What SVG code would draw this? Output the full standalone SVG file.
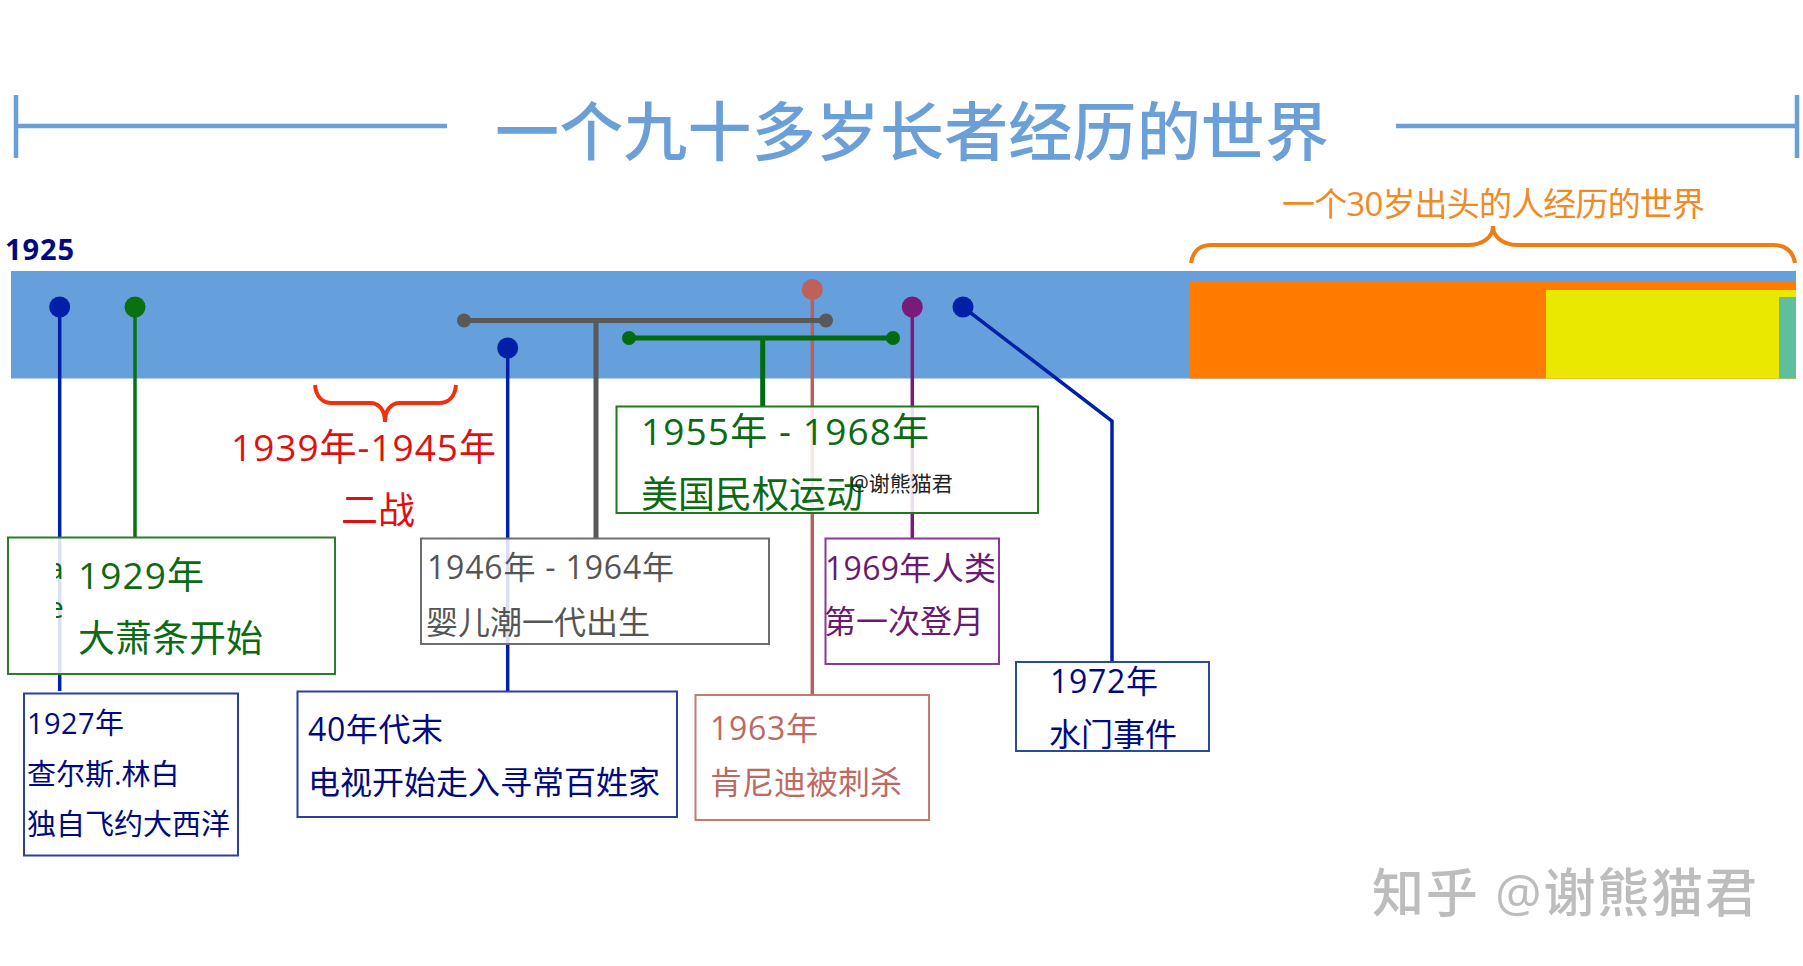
<svg xmlns="http://www.w3.org/2000/svg" width="1803" height="966" viewBox="0 0 1803 966">
<defs><clipPath id="frag"><rect x="56" y="555" width="7" height="70"/></clipPath></defs>
<style>
text{font-family:"Open Sans","Noto Sans CJK SC",sans-serif}
.box{fill:#fff;fill-opacity:.86;stroke-width:2}
.c{fill:none;stroke-width:3.5}
.t{fill:none;stroke-width:5}
.navy{fill:#000a80}.green{fill:#0b6a12}.grey{fill:#555}.rose{fill:#bd6a62}.purple{fill:#6a1a72}
</style>
<rect width="1803" height="966" fill="#fff"/>
<g id="title" fill="none" stroke="#6a9fd8" stroke-width="4.5">
<path d="M16 95V158M16 126H447M1396 126H1797M1797 95V158"/>
<text x="495" y="155" font-size="64" font-weight="500" fill="#6a9fd8" stroke="none" textLength="834">一个九十多岁长者经历的世界</text>
</g>
<g id="bar">
<rect x="11" y="271" width="1785" height="107.500" fill="#659fdc"/>
<rect x="1190" y="281.500" width="606" height="97" fill="#ff7c00"/>
<rect x="1546" y="290" width="250" height="88.500" fill="#eae800"/>
<rect x="1779" y="297" width="17" height="81.500" fill="#5fbf9c"/>
<text x="5" y="260" font-size="29" font-weight="700" fill="#000a80" textLength="69">1925</text>
</g>
<g id="connectors">
<path class="c" stroke="#0020a8" d="M59.700 307V691"/>
<path class="c" stroke="#0a7010" d="M135 307V537"/>
<path class="c" stroke="#0020a8" d="M507.700 348V691"/>
<path class="c" stroke="#b5625e" d="M812.300 289V695"/>
<path class="c" stroke="#7a1a7a" d="M912.300 307V538"/>
<path class="c" stroke="#0020a8" d="M963 307L1112 421V662"/>
<path class="t" stroke="#595959" d="M464 320.500H826M596 320.500V538"/>
<path class="t" stroke="#006b10" d="M629 338H893M762.700 338V406"/>
</g>
<g id="war">
<path fill="none" stroke="#f03010" stroke-width="4" d="M315 385C316 396 322 403 332 403H370C379 403 385 410 385 422C385 410 391 403 400 403H439C449 403 455 396 456 385"/>
<text x="231" y="461" font-size="37" fill="#e01010" textLength="265">1939年-1945年</text>
<text x="378" y="524" font-size="37" text-anchor="middle" fill="#e01010">二战</text>
</g>
<g id="recent">
<path fill="none" stroke="#f07d14" stroke-width="4" d="M1191 263C1193 251 1199 245 1212 245H1468C1483 245 1493 237 1493 226C1493 237 1503 245 1518 245H1773C1786 245 1793 251 1795 263"/>
<text x="1282" y="216" font-size="33" fill="#f08a24" textLength="423">一个30岁出头的人经历的世界</text>
</g>
<g id="n1927">
<circle cx="59.700" cy="307" r="10.500" fill="#0020a8"/>
<rect class="box" x="24" y="693.500" width="214" height="162" stroke="#2a3fa0"/>
<g class="navy" font-size="29"><text x="27" y="734" textLength="97">1927年</text><text x="27" y="785">查尔斯.林白</text><text x="27" y="835">独自飞约大西洋</text></g>
</g>
<g id="n1929">
<circle cx="135" cy="307" r="10.500" fill="#0a7010"/>
<rect class="box" x="8" y="537.500" width="327" height="136.500" stroke="#2e7a2e"/>
<g class="green" font-size="37" clip-path="url(#frag)" fill="#0b6a12"><text x="47" y="579" font-size="30">a</text><text x="47" y="618" font-size="30">e</text></g>
<g class="green" font-size="37"><text x="78" y="589" textLength="126">1929年</text><text x="78" y="652">大萧条开始</text></g>
</g>
<g id="n1946">
<circle cx="464" cy="320.500" r="7" fill="#595959"/><circle cx="826" cy="320.500" r="7" fill="#595959"/>
<rect class="box" x="421" y="538.500" width="348" height="105.500" stroke="#6e6e6e"/>
<g class="grey" font-size="32"><text x="427" y="579" textLength="247">1946年 - 1964年</text><text x="426" y="634">婴儿潮一代出生</text></g>
</g>
<g id="n40s">
<circle cx="507.700" cy="348" r="10.500" fill="#0020a8"/>
<rect class="box" x="297.500" y="691.500" width="379.500" height="125.500" stroke="#2a3fa0"/>
<g class="navy" font-size="32"><text x="308" y="741" textLength="135">40年代末</text><text x="308" y="794">电视开始走入寻常百姓家</text></g>
</g>
<g id="n1955">
<circle cx="629" cy="338" r="7" fill="#006b10"/><circle cx="893" cy="338" r="7" fill="#006b10"/>
<rect class="box" x="616.500" y="406.500" width="421.500" height="106.500" stroke="#1f7a1f"/>
<g class="green" font-size="37"><text x="641" y="445" textLength="288">1955年 - 1968年</text><text x="641" y="508">美国民权运动</text></g>
</g>
<g id="n1963">
<circle cx="812.300" cy="289.500" r="10.500" fill="#c0605a"/>
<rect class="box" x="695.500" y="695" width="233.500" height="125" stroke="#c47a70"/>
<g class="rose" font-size="32"><text x="710" y="740" textLength="108">1963年</text><text x="710" y="794">肯尼迪被刺杀</text></g>
</g>
<g id="n1969">
<circle cx="912.300" cy="307" r="10.500" fill="#7a1a7a"/>
<rect class="box" x="825.500" y="538.500" width="173.500" height="125.500" stroke="#8a3a96"/>
<g class="purple" font-size="32"><text x="825" y="580" textLength="171">1969年人类</text><text x="824" y="633">第一次登月</text></g>
</g>
<g id="n1972">
<circle cx="963" cy="307" r="10.500" fill="#0020a8"/>
<rect class="box" x="1016" y="662" width="193" height="89" stroke="#2a4a9a"/>
<g class="navy" font-size="32"><text x="1050" y="693" textLength="108">1972年</text><text x="1049" y="746">水门事件</text></g>
</g>
<g id="watermarks">
<text x="850" y="491" font-size="21" fill="#222">@谢熊猫君</text>
<text x="1372" y="912" font-size="52" font-weight="500" fill="#bdbdbd" textLength="385">知乎 @谢熊猫君</text>
</g>
</svg>
